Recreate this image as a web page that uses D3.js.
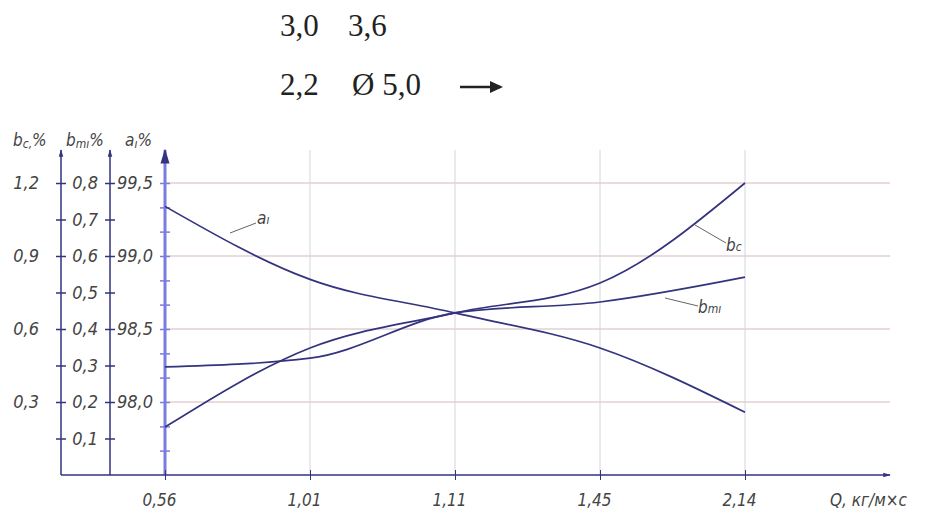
<!DOCTYPE html>
<html>
<head>
<meta charset="utf-8">
<script src="https://cdn.jsdelivr.net/npm/d3@7"></script>
<style>
  body { margin: 0; background: #fff; }
  .lbl { font-family: "DejaVu Sans Condensed", "DejaVu Sans", sans-serif; font-style: italic; fill: #444; }
  .top { font-family: "Liberation Serif", "Times New Roman", serif; fill: #222; font-size: 31px; }
</style>
</head>
<body>
<svg id="chart" width="939" height="510"></svg>
<script>
// flow rate categories, Q kg/m*s
const categories = ['0,56', '1,01', '1,11', '1,45', '2,14']
// series
const a1 = [99.34, 98.84, 98.61, 98.37, 97.93]
const bc = [0.197, 0.522, 0.666, 0.789, 1.2]
const bm = [0.296, 0.32, 0.444, 0.474, 0.542]

const bcTicks = [0.15, 0.3, 0.45, 0.6, 0.75, 0.9, 1.05, 1.2]
const bcLabels = [0.3, 0.6, 0.9, 1.2]
const bmTicks = [0.1, 0.2, 0.3, 0.4, 0.5, 0.6, 0.7, 0.8]
const aTicks = [97.667, 97.833, 98.0, 98.167, 98.333, 98.5, 98.667, 98.833, 99.0, 99.167, 99.333, 99.5]
const aLabels = [98.0, 98.5, 99.0, 99.5]

const svg = d3.select('#chart')
const y0 = 475, y1 = 183
const navy = '#33337e'

const x = d3.scalePoint().domain(categories).range([165, 745])
const yBc = d3.scaleLinear().domain([0, 1.2]).range([y0, y1])
const yBm = d3.scaleLinear().domain([0, 0.8]).range([y0, y1])
const yA = d3.scaleLinear().domain([97.5, 99.5]).range([y0, y1])

const comma = d => String(d).replace('.', ',')

// grid
svg.append('g').selectAll('line')
  .data([0.2, 0.4, 0.6, 0.8])
  .join('line')
  .attr('x1', 165).attr('x2', 890)
  .attr('y1', d => yBm(d)).attr('y2', d => yBm(d))
  .attr('stroke', '#eadcdc').attr('stroke-width', 2)
svg.append('g').selectAll('line')
  .data(categories.slice(1))
  .join('line')
  .attr('x1', d => x(d)).attr('x2', d => x(d))
  .attr('y1', 150).attr('y2', y0)
  .attr('stroke', '#d4d4de').attr('stroke-width', 1)

// arrow marker
svg.append('defs').append('marker')
  .attr('id', 'arr').attr('viewBox', '0 0 10 10')
  .attr('refX', 9).attr('refY', 5)
  .attr('markerWidth', 5).attr('markerHeight', 6)
  .attr('orient', 'auto-start-reverse')
  .append('path').attr('d', 'M0,2L10,5L0,8z').attr('fill', navy)

// vertical axes
function vAxis(xpos, scale, ticks, labels, fmt, color, width) {
  const g = svg.append('g').attr('transform', `translate(${xpos},0)`)
  const ax = d3.axisLeft(scale).tickValues(ticks).tickSize(5).tickPadding(7)
    .tickFormat(d => labels.some(l => Math.abs(l - d) < 1e-6) ? fmt(d) : '')
  g.call(ax)
  g.select('.domain').remove()
  g.append('line').attr('y1', y0).attr('y2', 150)
    .attr('stroke', color).attr('stroke-width', width)
    .attr('marker-end', 'url(#arr)')
  g.selectAll('.tick line').attr('x1', -5).attr('x2', 5).attr('stroke', color).attr('stroke-width', 1.5)
  g.selectAll('.tick text').attr('class', 'lbl').attr('font-size', 18)
  return g
}
vAxis(61, yBc, bcTicks, bcLabels, d => comma(d3.format('.1f')(d)), navy, 1.5)
  .selectAll('.tick text').attr('dx', -10)
vAxis(110, yBm, bmTicks, bmTicks, d => comma(d3.format('.1f')(d)), navy, 1.5)
vAxis(165, yA, aTicks, aLabels, d => comma(d3.format('.1f')(d)), '#7b7be0', 3)

// x axis
const gx = svg.append('g').attr('transform', `translate(0,${y0})`)
gx.call(d3.axisBottom(x).tickSize(5).tickPadding(14))
gx.select('.domain').remove()
gx.append('line').attr('x1', 61).attr('x2', 890)
  .attr('stroke', navy).attr('stroke-width', 1.5).attr('marker-end', 'url(#arr)')
gx.selectAll('.tick line').attr('y1', -5).attr('y2', 5).attr('stroke', navy)
gx.selectAll('.tick text').attr('class', 'lbl').attr('font-size', 17).attr('dx', -6)
svg.append('text').attr('class', 'lbl').attr('font-size', 17)
  .attr('x', 830).attr('y', 506).text('Q, кг/м×с')

// axis titles
function title(xp, base, sub) {
  const t = svg.append('text').attr('class', 'lbl').attr('font-size', 17).attr('x', xp).attr('y', 146)
  t.append('tspan').text(base)
  t.append('tspan').attr('font-size', 12).attr('dy', 2).text(sub)
  t.append('tspan').attr('dy', -2).text('%')
}
title(13, 'b', 'c,')
title(66, 'b', 'mı')
title(125, 'a', 'ı')

// curves
const line = (scale) => d3.line().x((d, i) => x(categories[i])).y(d => scale(d)).curve(d3.curveMonotoneX)
const series = [[a1, yA], [bc, yBc], [bm, yBm]]
svg.append('g').selectAll('path')
  .data(series)
  .join('path')
  .attr('d', d => line(d[1])(d[0]))
  .attr('fill', 'none').attr('stroke', navy).attr('stroke-width', 1.7)

// curve labels with leaders
const notes = [
  { t: 'a', s: 'ı', tx: 257, ty: 224, lx1: 230, ly1: 233, lx2: 256, ly2: 223 },
  { t: 'b', s: 'c', tx: 726, ty: 251, lx1: 695, ly1: 225, lx2: 726, ly2: 243 },
  { t: 'b', s: 'mı', tx: 698, ty: 313, lx1: 665, ly1: 298, lx2: 698, ly2: 306 },
]
notes.forEach(n => {
  svg.append('line').attr('x1', n.lx1).attr('y1', n.ly1).attr('x2', n.lx2).attr('y2', n.ly2)
    .attr('stroke', '#666').attr('stroke-width', 1)
  const t = svg.append('text').attr('class', 'lbl').attr('font-size', 17).attr('x', n.tx).attr('y', n.ty)
  t.append('tspan').text(n.t)
  t.append('tspan').attr('font-size', 12).text(n.s)
})

// header numbers
svg.append('text').attr('class', 'top').attr('x', 280).attr('y', 36).text('3,0')
svg.append('text').attr('class', 'top').attr('x', 348).attr('y', 36).text('3,6')
svg.append('text').attr('class', 'top').attr('x', 280).attr('y', 95).text('2,2')
svg.append('text').attr('class', 'top').attr('x', 352).attr('y', 95).text('Ø 5,0')
svg.append('line').attr('x1', 460).attr('x2', 500).attr('y1', 87).attr('y2', 87)
  .attr('stroke', '#222').attr('stroke-width', 2.5)
svg.append('path').attr('d', 'M490,81L503,87L490,93z').attr('fill', '#222')
</script>
</body>
</html>
